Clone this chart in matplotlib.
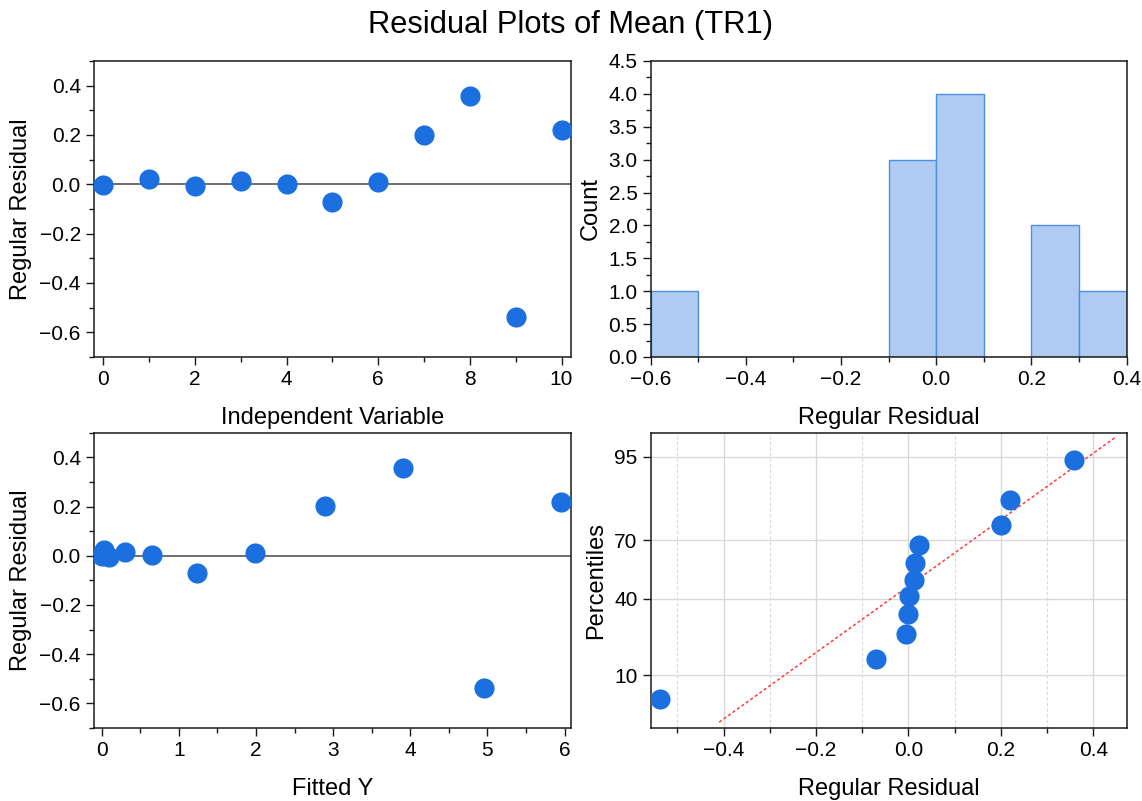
import math
import numpy as np
import matplotlib
matplotlib.use("Agg")
import matplotlib.pyplot as plt
from matplotlib.ticker import MultipleLocator, FixedLocator, NullLocator

plt.rcParams["font.family"] = ["Liberation Sans", "DejaVu Sans"]
plt.rcParams["axes.unicode_minus"] = True

# ---- data -------------------------------------------------------------
independent = [0, 1, 2, 3, 4, 5, 6, 7, 8, 9, 10]
residuals = [-0.001, 0.023, -0.006, 0.014, 0.002, -0.070, 0.011, 0.201, 0.358, -0.537, 0.220]
fitted = [0.00, 0.03, 0.10, 0.30, 0.65, 1.23, 1.99, 2.90, 3.91, 4.95, 5.95]
hist_edges = [-0.6, -0.5, -0.4, -0.3, -0.2, -0.1, 0.0, 0.1, 0.2, 0.3, 0.4]
percentile_ticks = [10, 40, 70, 95]

POINT = "#1b6fdf"
BAR_FACE = "#afcbf2"
BAR_EDGE = "#4a8fe3"
SPINE = "#1a1a1a"
TICK_FS = 15
LABEL_FS = 17


# ---- normal probability scale helpers ---------------------------------
def norm_ppf(p):
    p = np.asarray(p, dtype=float)
    a = [-3.969683028665376e+01, 2.209460984245205e+02, -2.759285104469687e+02,
         1.383577518672690e+02, -3.066479806614716e+01, 2.506628277459239e+00]
    b = [-5.447609879822406e+01, 1.615858368580409e+02, -1.556989798598866e+02,
         6.680131188771972e+01, -1.328068155288572e+01]
    c = [-7.784894002430293e-03, -3.223964580411365e-01, -2.400758277161838e+00,
         -2.549671010929734e+00, 4.374664141464968e+00, 2.938163982698783e+00]
    d = [7.784695709041462e-03, 3.224671290700398e-01, 2.445134137142996e+00,
         3.754408661907416e+00]
    plow = 0.02425
    out = np.empty_like(p)
    lo = p < plow
    hi = p > 1 - plow
    mid = ~(lo | hi)
    q = np.sqrt(-2 * np.log(p[lo]))
    out[lo] = (((((c[0]*q+c[1])*q+c[2])*q+c[3])*q+c[4])*q+c[5]) / \
              ((((d[0]*q+d[1])*q+d[2])*q+d[3])*q+1)
    q = p[mid] - 0.5
    r = q * q
    out[mid] = (((((a[0]*r+a[1])*r+a[2])*r+a[3])*r+a[4])*r+a[5])*q / \
               (((((b[0]*r+b[1])*r+b[2])*r+b[3])*r+b[4])*r+1)
    q = np.sqrt(-2 * np.log(1 - p[hi]))
    out[hi] = -(((((c[0]*q+c[1])*q+c[2])*q+c[3])*q+c[4])*q+c[5]) / \
               ((((d[0]*q+d[1])*q+d[2])*q+d[3])*q+1)
    return out


def norm_cdf(z):
    z = np.asarray(z, dtype=float)
    flat = [0.5 * (1 + math.erf(v / math.sqrt(2))) for v in z.ravel()]
    return np.array(flat).reshape(z.shape)


def pct_forward(pct):
    p = np.clip(np.asarray(pct, dtype=float) / 100.0, 1e-9, 1 - 1e-9)
    return norm_ppf(p)


def pct_inverse(z):
    return 100.0 * norm_cdf(z)


# ---- figure -----------------------------------------------------------
fig = plt.figure(figsize=(11.42, 8.01), dpi=100)
W, H = 1142, 801


def add_axes(left, top, right, bottom):
    return fig.add_axes([left / W, 1 - bottom / H, (right - left) / W, (bottom - top) / H])


ax_tl = add_axes(94, 61, 570.7, 357)
ax_tr = add_axes(650.7, 61, 1126.5, 357)
ax_bl = add_axes(94, 432.7, 570.7, 728)
ax_br = add_axes(650.7, 432.7, 1126.5, 728)


def style(ax):
    for s in ax.spines.values():
        s.set_color(SPINE)
        s.set_linewidth(1.1)
    ax.tick_params(which="major", direction="out", length=6, width=1.0,
                   color=SPINE, labelsize=TICK_FS, pad=3.5)
    ax.tick_params(which="minor", direction="out", length=3.3, width=1.0, color=SPINE)


fig.suptitle("Residual Plots of Mean (TR1)", fontsize=22.2, y=0.987)

# Residual vs independent variable
ax = ax_tl
style(ax)
ax.axhline(0, color="#555555", lw=1.2, zorder=1)
ax.plot(independent, residuals, "o", ms=14.5, color=POINT, mew=0, zorder=3)
ax.set_xlim(-0.2, 10.2)
ax.set_ylim(-0.7, 0.5)
ax.xaxis.set_major_locator(MultipleLocator(2))
ax.xaxis.set_minor_locator(MultipleLocator(1))
ax.yaxis.set_major_locator(MultipleLocator(0.2))
ax.yaxis.set_minor_locator(MultipleLocator(0.1))
ax.set_xlabel("Independent Variable", fontsize=LABEL_FS, labelpad=13)
ax.set_ylabel("Regular Residual", fontsize=LABEL_FS, labelpad=5)

# Histogram of residuals
ax = ax_tr
style(ax)
ax.hist(residuals, bins=hist_edges, color=BAR_FACE, edgecolor=BAR_EDGE, linewidth=1.0)
ax.set_xlim(-0.6, 0.4)
ax.set_ylim(0, 4.5)
ax.xaxis.set_major_locator(MultipleLocator(0.2))
ax.xaxis.set_minor_locator(MultipleLocator(0.1))
ax.yaxis.set_major_locator(MultipleLocator(0.5))
ax.yaxis.set_minor_locator(MultipleLocator(0.25))
ax.set_xlabel("Regular Residual", fontsize=LABEL_FS, labelpad=13)
ax.set_ylabel("Count", fontsize=LABEL_FS, labelpad=5)

# Residual vs fitted
ax = ax_bl
style(ax)
ax.axhline(0, color="#555555", lw=1.2, zorder=1)
ax.plot(fitted, residuals, "o", ms=14.5, color=POINT, mew=0, zorder=3)
ax.set_xlim(-0.1, 6.08)
ax.set_ylim(-0.7, 0.5)
ax.xaxis.set_major_locator(MultipleLocator(1))
ax.xaxis.set_minor_locator(MultipleLocator(0.5))
ax.yaxis.set_major_locator(MultipleLocator(0.2))
ax.yaxis.set_minor_locator(MultipleLocator(0.1))
ax.set_xlabel("Fitted Y", fontsize=LABEL_FS, labelpad=13)
ax.set_ylabel("Regular Residual", fontsize=LABEL_FS, labelpad=5)

# Normal probability plot
ax = ax_br
style(ax)
ax.set_yscale("function", functions=(pct_forward, pct_inverse))
n = len(residuals)
sorted_res = np.sort(residuals)
ranks = np.arange(1, n + 1)
plot_pct = 100.0 * (ranks - 0.375) / (n + 0.25)
mean = float(np.mean(residuals))
sd = float(np.std(residuals, ddof=1))
z_line = np.linspace(-1.907, 1.896, 60)
ax.plot(mean + z_line * sd, pct_inverse(z_line), color="#ff3b3b", lw=1.1,
        linestyle=(0, (2.0, 1.6)), zorder=2)
ax.plot(sorted_res, plot_pct, "o", ms=14.5, color=POINT, mew=0, zorder=3)
ax.set_xlim(-0.558, 0.472)
ax.set_ylim(pct_inverse(-1.985), pct_inverse(1.965))
ax.xaxis.set_major_locator(MultipleLocator(0.2))
ax.xaxis.set_minor_locator(MultipleLocator(0.1))
ax.yaxis.set_major_locator(FixedLocator(percentile_ticks))
ax.yaxis.set_minor_locator(NullLocator())
ax.yaxis.set_major_formatter(plt.FuncFormatter(lambda v, _: f"{v:.0f}"))
ax.grid(True, which="major", color="#d9d9d9", lw=1.0, zorder=0)
ax.grid(True, which="minor", axis="x", color="#d9d9d9", lw=0.8, linestyle=(0, (3, 2)), zorder=0)
ax.set_axisbelow(True)
ax.set_xlabel("Regular Residual", fontsize=LABEL_FS, labelpad=13)
ax.set_ylabel("Percentiles", fontsize=LABEL_FS, labelpad=5)

fig.savefig("out.png", dpi=100)
